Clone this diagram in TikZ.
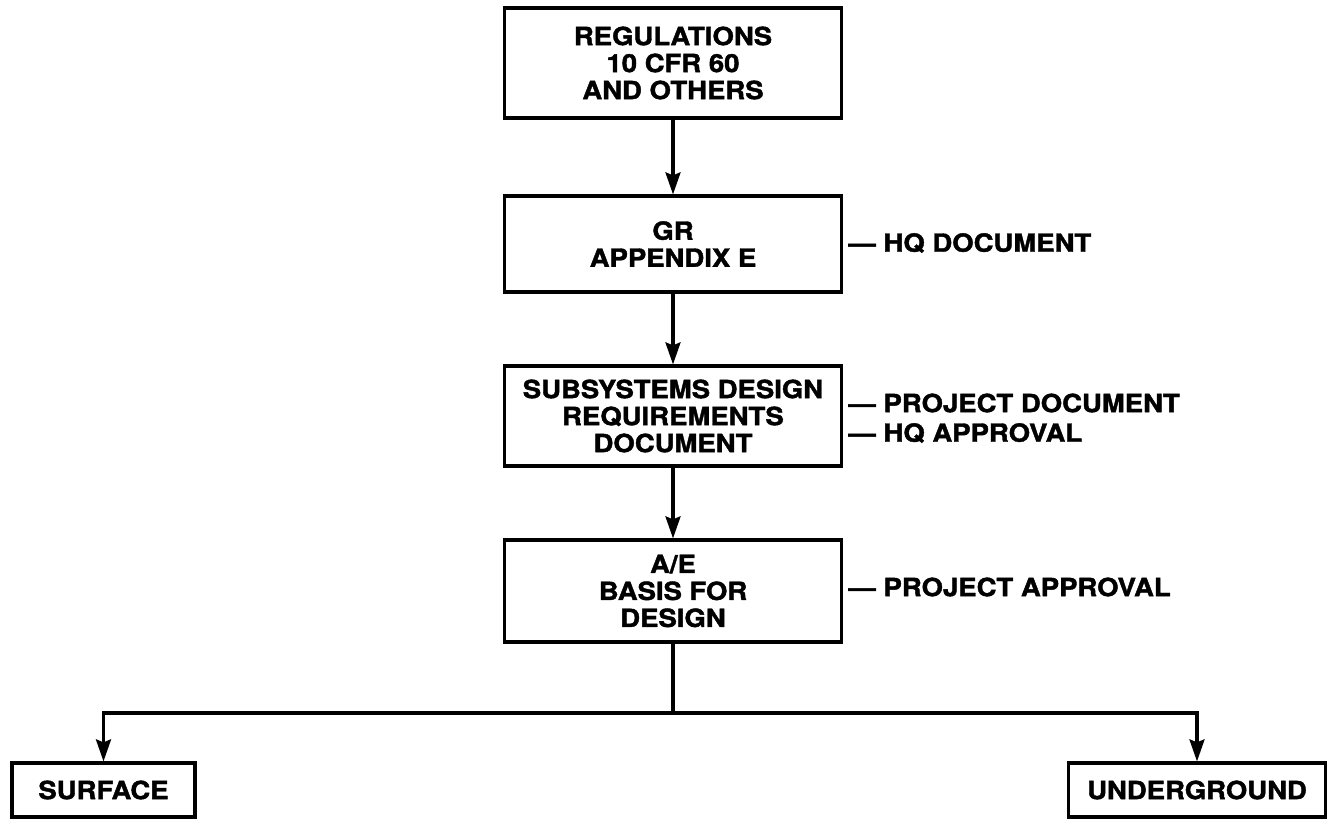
\documentclass[tikz,border=0pt]{standalone}
\usepackage{fontspec}
\setmainfont{TeX Gyre Heros}[FakeStretch=1.1, FakeBold=1.6]
\usetikzlibrary{arrows.meta}
\usetikzlibrary{positioning}
\definecolor{gdink}{HTML}{000000}
\definecolor{gdpaper}{HTML}{FFFFFF}
\tikzset{
  gdbox/.style={
    draw=gdink, fill=gdpaper, line width=1.6pt, inner sep=0pt,
    minimum width=168.5pt, align=center, text=gdink,
    font=\bfseries\fontsize{12.5}{13.5}\selectfont},
  gdsmall/.style={gdbox, minimum height=27pt},
  gdline/.style={draw=gdink, line width=1.6pt, line join=miter},
  gdarrow/.style={gdline, -{Stealth[length=11pt, width=7.5pt, inset=1.5pt]}},
  gdnote/.style={
    anchor=west, inner sep=0pt, text=gdink,
    font=\bfseries\fontsize{12.5}{13.5}\selectfont},
}

\begin{document}
\begin{tikzpicture}[x=0.5pt, y=-0.5pt]

\useasboundingbox[fill=gdpaper] (0, 0) rectangle (1330, 829);

% Chain of documents, top to bottom.
\node[gdbox, minimum height=55pt] (reg) at (673, 63)
  {REGULATIONS\\10 CFR 60\\AND OTHERS};
\node[gdbox, minimum height=48pt] (gr) at (673, 244)
  {GR\\APPENDIX E};
\node[gdbox, minimum height=50pt] (sdrd) at (673, 416)
  {SUBSYSTEMS DESIGN\\REQUIREMENTS\\DOCUMENT};
\node[gdbox, minimum height=51pt] (ae) at (673, 591)
  {A/E\\BASIS FOR\\DESIGN};

\draw[gdarrow] (reg) -- (gr);
\draw[gdarrow] (gr) -- (sdrd);
\draw[gdarrow] (sdrd) -- (ae);

% Who owns and approves each level.
\node[gdnote] (hqdoc) at (848, 243) {--- HQ DOCUMENT};
\node[gdnote] (projdoc) at (848, 403) {--- PROJECT DOCUMENT};
\node[gdnote] (hqappr) at (848, 433) {--- HQ APPROVAL};
\node[gdnote] (projappr) at (848, 587) {--- PROJECT APPROVAL};

% Split into the two facility areas.
\node[gdsmall, minimum width=91.5pt] (surf) at (103.5, 790) {SURFACE};
\node[gdsmall, minimum width=128.5pt] (ug) at (1197, 790) {UNDERGROUND};

\draw[gdline] (ae.south) -- (ae.south |- 0, 713) coordinate (split);
\draw[gdarrow] (split) -| (surf.north);
\draw[gdarrow] (split) -| (ug.north);

\end{tikzpicture}
\end{document}
